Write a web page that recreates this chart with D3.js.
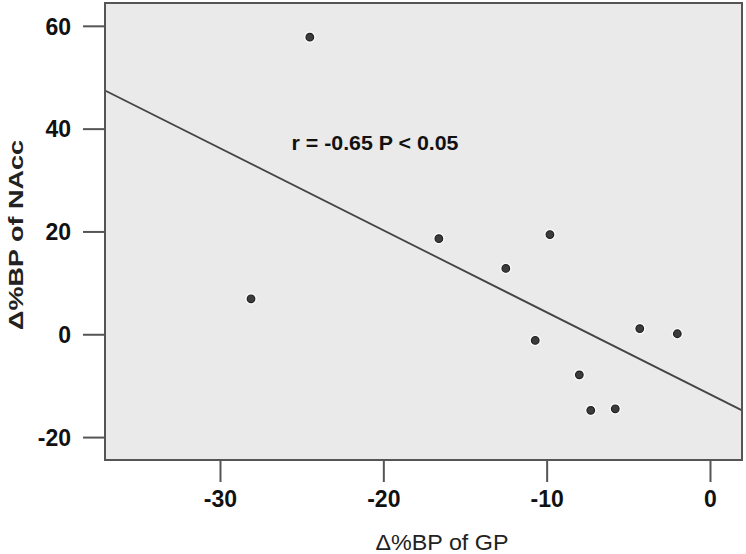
<!DOCTYPE html>
<html>
<head>
<meta charset="utf-8">
<script src="https://cdn.jsdelivr.net/npm/d3@7"></script>
<style>
  html, body { margin: 0; padding: 0; background: #ffffff; }
  svg { display: block; font-family: "Liberation Sans", Arial, sans-serif; }
</style>
</head>
<body>
<svg id="chart" width="746" height="554"></svg>
<script>
// Data
const gpValues   = [-28.1, -24.5, -16.6, -9.8, -12.5, -10.7, -8.0, -7.3, -5.8, -4.3, -2.0];
const naccValues = [  6.9,  57.8,  18.6, 19.4,  12.8,  -1.2, -7.9, -14.8, -14.5, 1.1, 0.1];
const xTicks = [-30, -20, -10, 0];
const yTicks = [-20, 0, 20, 40, 60];
const xDomain = [-37.04, 1.96];
const yDomain = [-24.46, 64.44];
const annotation = "r = -0.65 P < 0.05";
const xTitle = "\u0394%BP of GP";
const yTitle = "\u0394%BP of  NAcc";

const svg = d3.select("#chart");
const plot = { left: 105, right: 742, top: 3, bottom: 460 };

const x = d3.scaleLinear().domain(xDomain).range([plot.left, plot.right]);
const y = d3.scaleLinear().domain(yDomain).range([plot.bottom, plot.top]);

// plot background
svg.append("rect")
  .attr("x", plot.left).attr("y", plot.top)
  .attr("width", plot.right - plot.left).attr("height", plot.bottom - plot.top)
  .attr("fill", "#eaeaea");

// regression line (least squares from data)
const n = gpValues.length;
const mx = d3.mean(gpValues), my = d3.mean(naccValues);
let sxy = 0, sxx = 0;
for (let i = 0; i < n; i++) {
  sxy += (gpValues[i] - mx) * (naccValues[i] - my);
  sxx += (gpValues[i] - mx) ** 2;
}
const slope = sxy / sxx, intercept = my - slope * mx;
svg.append("line")
  .attr("x1", x(xDomain[0])).attr("y1", y(intercept + slope * xDomain[0]))
  .attr("x2", x(xDomain[1])).attr("y2", y(intercept + slope * xDomain[1]))
  .attr("stroke", "#444").attr("stroke-width", 1.8);

// points
const pts = gpValues.map((v, i) => [v, naccValues[i]]);
svg.append("g").selectAll("circle.halo").data(pts).join("circle")
  .attr("cx", d => x(d[0])).attr("cy", d => y(d[1])).attr("r", 5.8)
  .attr("fill", "#ffffff").attr("opacity", 0.7);
svg.append("g").selectAll("circle.pt").data(pts).join("circle")
  .attr("cx", d => x(d[0])).attr("cy", d => y(d[1])).attr("r", 3.8)
  .attr("fill", "#3c3c3c").attr("stroke", "#222").attr("stroke-width", 1.2);

// frame
svg.append("rect")
  .attr("x", plot.left).attr("y", plot.top)
  .attr("width", plot.right - plot.left).attr("height", plot.bottom - plot.top)
  .attr("fill", "none").attr("stroke", "#555").attr("stroke-width", 2);

// axes
const fmt = d => String(d);
const xAxis = d3.axisBottom(x).tickValues(xTicks).tickSize(22).tickPadding(9).tickFormat(fmt);
const gx = svg.append("g").attr("transform", `translate(0,${plot.bottom})`).call(xAxis);
const yAxis = d3.axisLeft(y).tickValues(yTicks).tickSize(22).tickPadding(12).tickFormat(fmt);
const gy = svg.append("g").attr("transform", `translate(${plot.left},0)`).call(yAxis);

[gx, gy].forEach(g => {
  g.select(".domain").remove();
  g.selectAll(".tick line").attr("stroke", "#555").attr("stroke-width", 2);
  g.selectAll(".tick text")
    .attr("fill", "#111")
    .style("font-family", "'Liberation Sans', Arial, sans-serif")
    .style("font-size", "23px").style("font-weight", "bold");
});
gy.selectAll(".tick text").attr("dy", "0.36em");

// annotation
svg.append("text")
  .attr("x", 291.5).attr("y", 150)
  .attr("textLength", 167).attr("lengthAdjust", "spacingAndGlyphs")
  .style("font-size", "21px").style("font-weight", "bold").attr("fill", "#111")
  .text(annotation);

// x title
svg.append("text")
  .attr("x", 442).attr("y", 550).attr("text-anchor", "middle")
  .attr("textLength", 133).attr("lengthAdjust", "spacingAndGlyphs")
  .style("font-size", "22px").attr("fill", "#222")
  .text(xTitle);

// y title
svg.append("text")
  .attr("transform", "translate(23,235) rotate(-90)")
  .attr("text-anchor", "middle")
  .attr("textLength", 190).attr("lengthAdjust", "spacingAndGlyphs")
  .style("font-size", "21px").style("font-weight", "bold").attr("fill", "#222")
  .text(yTitle);
</script>
</body>
</html>
